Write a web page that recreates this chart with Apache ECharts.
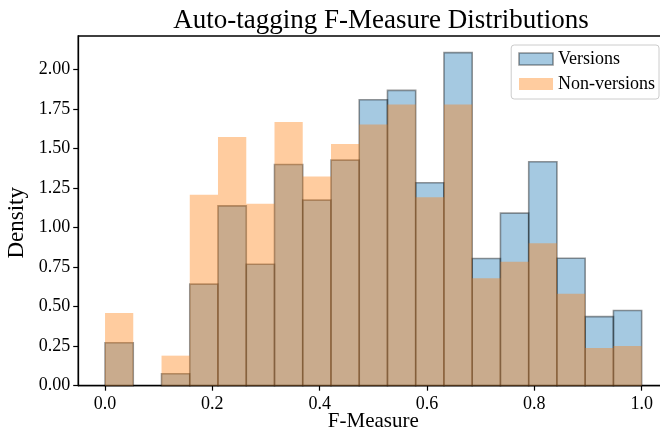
<!DOCTYPE html>
<html>
<head>
<meta charset="utf-8">
<title>Auto-tagging F-Measure Distributions</title>
<script src="https://cdn.jsdelivr.net/npm/echarts@6/dist/echarts.min.js"></script>
<style>
  html, body { margin: 0; padding: 0; background: #fff; }
  #chart { width: 660px; height: 431px; }
</style>
</head>
<body>
<div id="chart"></div>
<script>
// Histogram bin edges (19 equal bins over [0, 1])
const binEdges = [0.0000, 0.0526, 0.1053, 0.1579, 0.2105, 0.2632, 0.3158, 0.3684, 0.4211, 0.4737,
                  0.5263, 0.5789, 0.6316, 0.6842, 0.7368, 0.7895, 0.8421, 0.8947, 0.9474, 1.0000];

// Density per bin
const versionsDensity    = [0.272, 0.000, 0.076, 0.642, 1.137, 0.768, 1.399, 1.173, 1.426, 1.808,
                            1.867, 1.283, 2.106, 0.804, 1.091, 1.416, 0.806, 0.437, 0.475];
const nonVersionsDensity = [0.460, 0.000, 0.190, 1.207, 1.572, 1.150, 1.667, 1.323, 1.528, 1.652,
                            1.778, 1.192, 1.778, 0.680, 0.783, 0.901, 0.582, 0.239, 0.251];

const seriesNames = ['Versions', 'Non-versions'];
const xTicks = [0.0, 0.2, 0.4, 0.6, 0.8, 1.0];
const yTicks = [0.00, 0.25, 0.50, 0.75, 1.00, 1.25, 1.50, 1.75, 2.00];

const FONT = '"Liberation Serif", "DejaVu Serif", serif';

function binRows(values) {
  return values.map((v, i) => [binEdges[i], binEdges[i + 1], v]);
}

const versionsStyle = { color: 'rgba(31,119,180,0.4)', borderColor: 'rgba(0,0,0,0.4)', borderWidth: 1.6 };
const nonVersionsStyle = { color: 'rgba(255,127,14,0.4)', borderColor: 'rgba(0,0,0,0)', borderWidth: 0 };

function makeRenderer(style) {
  return function (params, api) {
    const x0 = api.value(0), x1 = api.value(1), y = api.value(2);
    if (!(y > 0)) return null;
    const base = api.coord([x0, 0]);
    const top = api.coord([x1, y]);
    return {
      type: 'rect',
      shape: { x: base[0], y: top[1], width: top[0] - base[0], height: base[1] - top[1] },
      style: {
        fill: style.color,
        stroke: style.borderWidth ? style.borderColor : null,
        lineWidth: style.borderWidth
      }
    };
  };
}

const chart = echarts.init(document.getElementById('chart'), null, { renderer: 'canvas' });

chart.setOption({
  animation: false,
  backgroundColor: '#fff',
  title: {
    text: 'Auto-tagging F-Measure Distributions',
    left: 376,
    textAlign: 'center',
    top: 2,
    textStyle: { fontFamily: FONT, fontSize: 27, fontWeight: 'normal', color: '#000' }
  },
  legend: {
    right: 1,
    top: 45,
    orient: 'vertical',
    itemWidth: 34,
    itemHeight: 12,
    itemGap: 7,
    padding: [5, 4, 6, 7],
    backgroundColor: 'rgba(255,255,255,0.8)',
    borderColor: '#cccccc',
    borderWidth: 1,
    borderRadius: 3,
    textStyle: { fontFamily: FONT, fontSize: 18, color: '#000' },
    data: [
      { name: seriesNames[0], icon: 'rect', itemStyle: versionsStyle },
      { name: seriesNames[1], icon: 'rect', itemStyle: nonVersionsStyle }
    ]
  },
  grid: {
    left: 78.2,
    top: 36,
    right: -8.5,
    bottom: 45.3,
    containLabel: false,
    outerBoundsMode: 'none',
    show: true,
    borderColor: '#000',
    borderWidth: 1.3,
    backgroundColor: 'transparent'
  },
  xAxis: {
    type: 'value',
    min: -0.05,
    max: 1.05,
    name: 'F-Measure',
    nameLocation: 'middle',
    nameGap: 25,
    nameMoveOverlap: false,
    nameTextStyle: { fontFamily: FONT, fontSize: 21, color: '#000' },
    splitLine: { show: false },
    axisLine: { show: true, onZero: false, lineStyle: { color: '#000', width: 1.3 } },
    axisTick: { show: true, inside: false, length: 5, lineStyle: { color: '#000', width: 1.2 }, customValues: xTicks },
    axisLabel: {
      fontFamily: FONT, fontSize: 18, color: '#000', margin: 10,
      customValues: xTicks,
      formatter: v => v.toFixed(1)
    }
  },
  yAxis: {
    type: 'value',
    min: 0,
    max: 2.211,
    name: 'Density',
    nameLocation: 'middle',
    nameGap: 50,
    nameMoveOverlap: false,
    nameTextStyle: { fontFamily: FONT, fontSize: 23, color: '#000', padding: [0, 24, 0, 0] },
    splitLine: { show: false },
    axisLine: { show: true, onZero: false, lineStyle: { color: '#000', width: 1.3 } },
    axisTick: { show: true, inside: false, length: 5, lineStyle: { color: '#000', width: 1.2 }, customValues: yTicks },
    axisLabel: {
      fontFamily: FONT, fontSize: 18, color: '#000', margin: 8,
      customValues: yTicks,
      formatter: v => v.toFixed(2)
    }
  },
  series: [
    {
      name: seriesNames[0],
      type: 'custom',
      renderItem: makeRenderer(versionsStyle),
      itemStyle: versionsStyle,
      encode: { x: [0, 1], y: 2 },
      data: binRows(versionsDensity),
      z: 2
    },
    {
      name: seriesNames[1],
      type: 'custom',
      renderItem: makeRenderer(nonVersionsStyle),
      itemStyle: nonVersionsStyle,
      encode: { x: [0, 1], y: 2 },
      data: binRows(nonVersionsDensity),
      z: 3
    }
  ]
});
</script>
</body>
</html>
